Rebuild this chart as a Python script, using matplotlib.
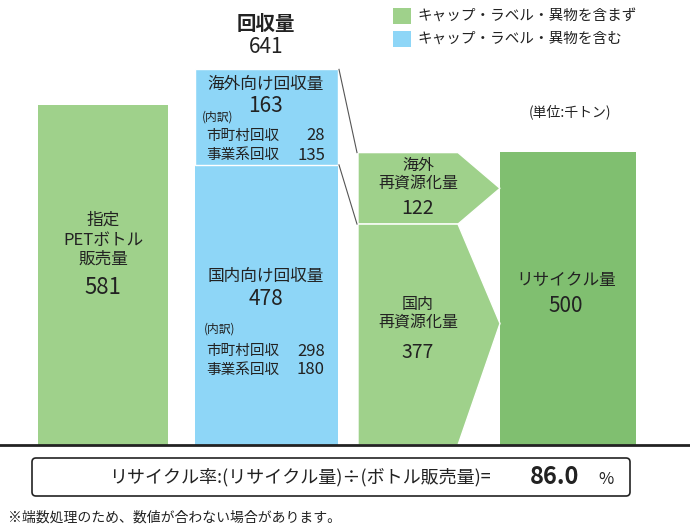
import matplotlib.pyplot as plt
from matplotlib.patches import Polygon, FancyBboxPatch, Rectangle

plt.rcParams['font.family'] = 'Noto Sans CJK JP'

# values (thousand tons)
sales = 581
collect_domestic = 478
collect_overseas = 163
recycle_domestic = 377
recycle_overseas = 122
recycle_total = 500

LIGHT_GREEN = '#9fd18b'
DARK_GREEN = '#80bf70'
BLUE = '#8ed6f7'
TXT = '#222222'

PX = 0.586  # pixels per thousand tons
W, H = 690, 532
BASE = 445  # baseline in pixels from top

fig = plt.figure(figsize=(6.9, 5.32), dpi=100)
ax = fig.add_axes([0, 0, 1, 1])
ax.set_xlim(0, W)
ax.set_ylim(-(H - BASE) / PX, BASE / PX)
ax.axis('off')

def py(p):
    # pixel-from-top -> data y
    return (BASE - p) / PX

# bars
ax.bar(103, sales, width=130, color=LIGHT_GREEN)
ax.bar(266.5, collect_domestic, width=143, color=BLUE)
ax.bar(266.5, collect_overseas, width=143, bottom=collect_domestic, color=BLUE,
       edgecolor='white', linewidth=1)
ax.bar(568, recycle_total, width=136, color=DARK_GREEN)

# arrows for recycling
x0, x1, x2 = 358, 458, 500
t = recycle_domestic + recycle_overseas
ax.add_patch(Polygon([(x0, recycle_domestic), (x1, recycle_domestic),
                      (x2, recycle_domestic + recycle_overseas / 2), (x1, t), (x0, t)],
                     closed=True, facecolor=LIGHT_GREEN, edgecolor='white', lw=1))
ax.add_patch(Polygon([(x0, 0), (x1, 0), (x2, recycle_domestic * 0.55),
                      (x1, recycle_domestic), (x0, recycle_domestic)],
                     closed=True, facecolor=LIGHT_GREEN, edgecolor='white', lw=1))

# connector lines
ctop = collect_domestic + collect_overseas
ax.plot([339, x0 - 1], [ctop, t], color='#555555', lw=0.8)
ax.plot([339, x0 - 1], [collect_domestic, recycle_domestic], color='#555555', lw=0.8)

# baseline
ax.axhline(0, color='#222222', lw=2)

# texts
ax.text(103, py(240), '指定\nPETボトル\n販売量', ha='center', va='center', fontsize=12,
        color=TXT, linespacing=1.2)
ax.text(103, py(287), f'{sales}', ha='center', va='center', fontsize=16, color=TXT)

ax.text(266, py(25), '回収量', ha='center', va='center', fontsize=14, fontweight='bold', color=TXT)
ax.text(266, py(47), f'{ctop}', ha='center', va='center', fontsize=15, color=TXT)

ax.text(266, py(84), '海外向け回収量', ha='center', va='center', fontsize=12, color=TXT)
ax.text(266, py(106), f'{collect_overseas}', ha='center', va='center', fontsize=15, color=TXT)
ax.text(202, py(117), '(内訳)', ha='left', va='center', fontsize=8.5, color=TXT)
ax.text(206, py(136), '市町村回収', ha='left', va='center', fontsize=10.5, color=TXT)
ax.text(325, py(136), '28', ha='right', va='center', fontsize=12, color=TXT)
ax.text(206, py(155), '事業系回収', ha='left', va='center', fontsize=10.5, color=TXT)
ax.text(325, py(155), '135', ha='right', va='center', fontsize=12, color=TXT)

ax.text(266, py(276), '国内向け回収量', ha='center', va='center', fontsize=12, color=TXT)
ax.text(266, py(299), f'{collect_domestic}', ha='center', va='center', fontsize=15, color=TXT)
ax.text(204, py(329), '(内訳)', ha='left', va='center', fontsize=8.5, color=TXT)
ax.text(206, py(351), '市町村回収', ha='left', va='center', fontsize=10.5, color=TXT)
ax.text(325, py(351), '298', ha='right', va='center', fontsize=12, color=TXT)
ax.text(206, py(370), '事業系回収', ha='left', va='center', fontsize=10.5, color=TXT)
ax.text(325, py(370), '180', ha='right', va='center', fontsize=12, color=TXT)

ax.text(418, py(175), '海外\n再資源化量', ha='center', va='center', fontsize=11.5,
        color=TXT, linespacing=1.1)
ax.text(418, py(209), f'{recycle_overseas}', ha='center', va='center', fontsize=14, color=TXT)
ax.text(418, py(314), '国内\n再資源化量', ha='center', va='center', fontsize=11.5,
        color=TXT, linespacing=1.1)
ax.text(418, py(352), f'{recycle_domestic}', ha='center', va='center', fontsize=14, color=TXT)

ax.text(566, py(281), 'リサイクル量', ha='center', va='center', fontsize=12, color=TXT)
ax.text(566, py(306), f'{recycle_total}', ha='center', va='center', fontsize=15, color=TXT)

ax.text(570, py(112), '(単位:千トン)', ha='center', va='center', fontsize=10, color=TXT)

# legend
for yy, c, lab in [(16, LIGHT_GREEN, 'キャップ・ラベル・異物を含まず'),
                   (39, BLUE, 'キャップ・ラベル・異物を含む')]:
    ax.add_patch(Rectangle((393, py(yy + 8)), 18, 16 / PX, facecolor=c, edgecolor='none'))
    ax.text(417, py(yy), lab, ha='left', va='center', fontsize=10.5, color=TXT)

# formula box
ax.add_patch(FancyBboxPatch((32, py(496)), 598, 38 / PX,
                            boxstyle='round,pad=0,rounding_size=4',
                            mutation_aspect=1 / PX,
                            facecolor='white', edgecolor='#222222', lw=1.2))
ax.text(300, py(477), 'リサイクル率:(リサイクル量)÷(ボトル販売量)=', ha='center', va='center',
        fontsize=13, color=TXT)
ax.text(555, py(477), '86.0', ha='center', va='center', fontsize=17, fontweight='bold', color=TXT)
ax.text(606, py(479), '%', ha='center', va='center', fontsize=12, color=TXT)

ax.text(8, py(518), '※端数処理のため、数値が合わない場合があります。', ha='left', va='center',
        fontsize=10, color=TXT)

fig.savefig('out.png', dpi=100)
